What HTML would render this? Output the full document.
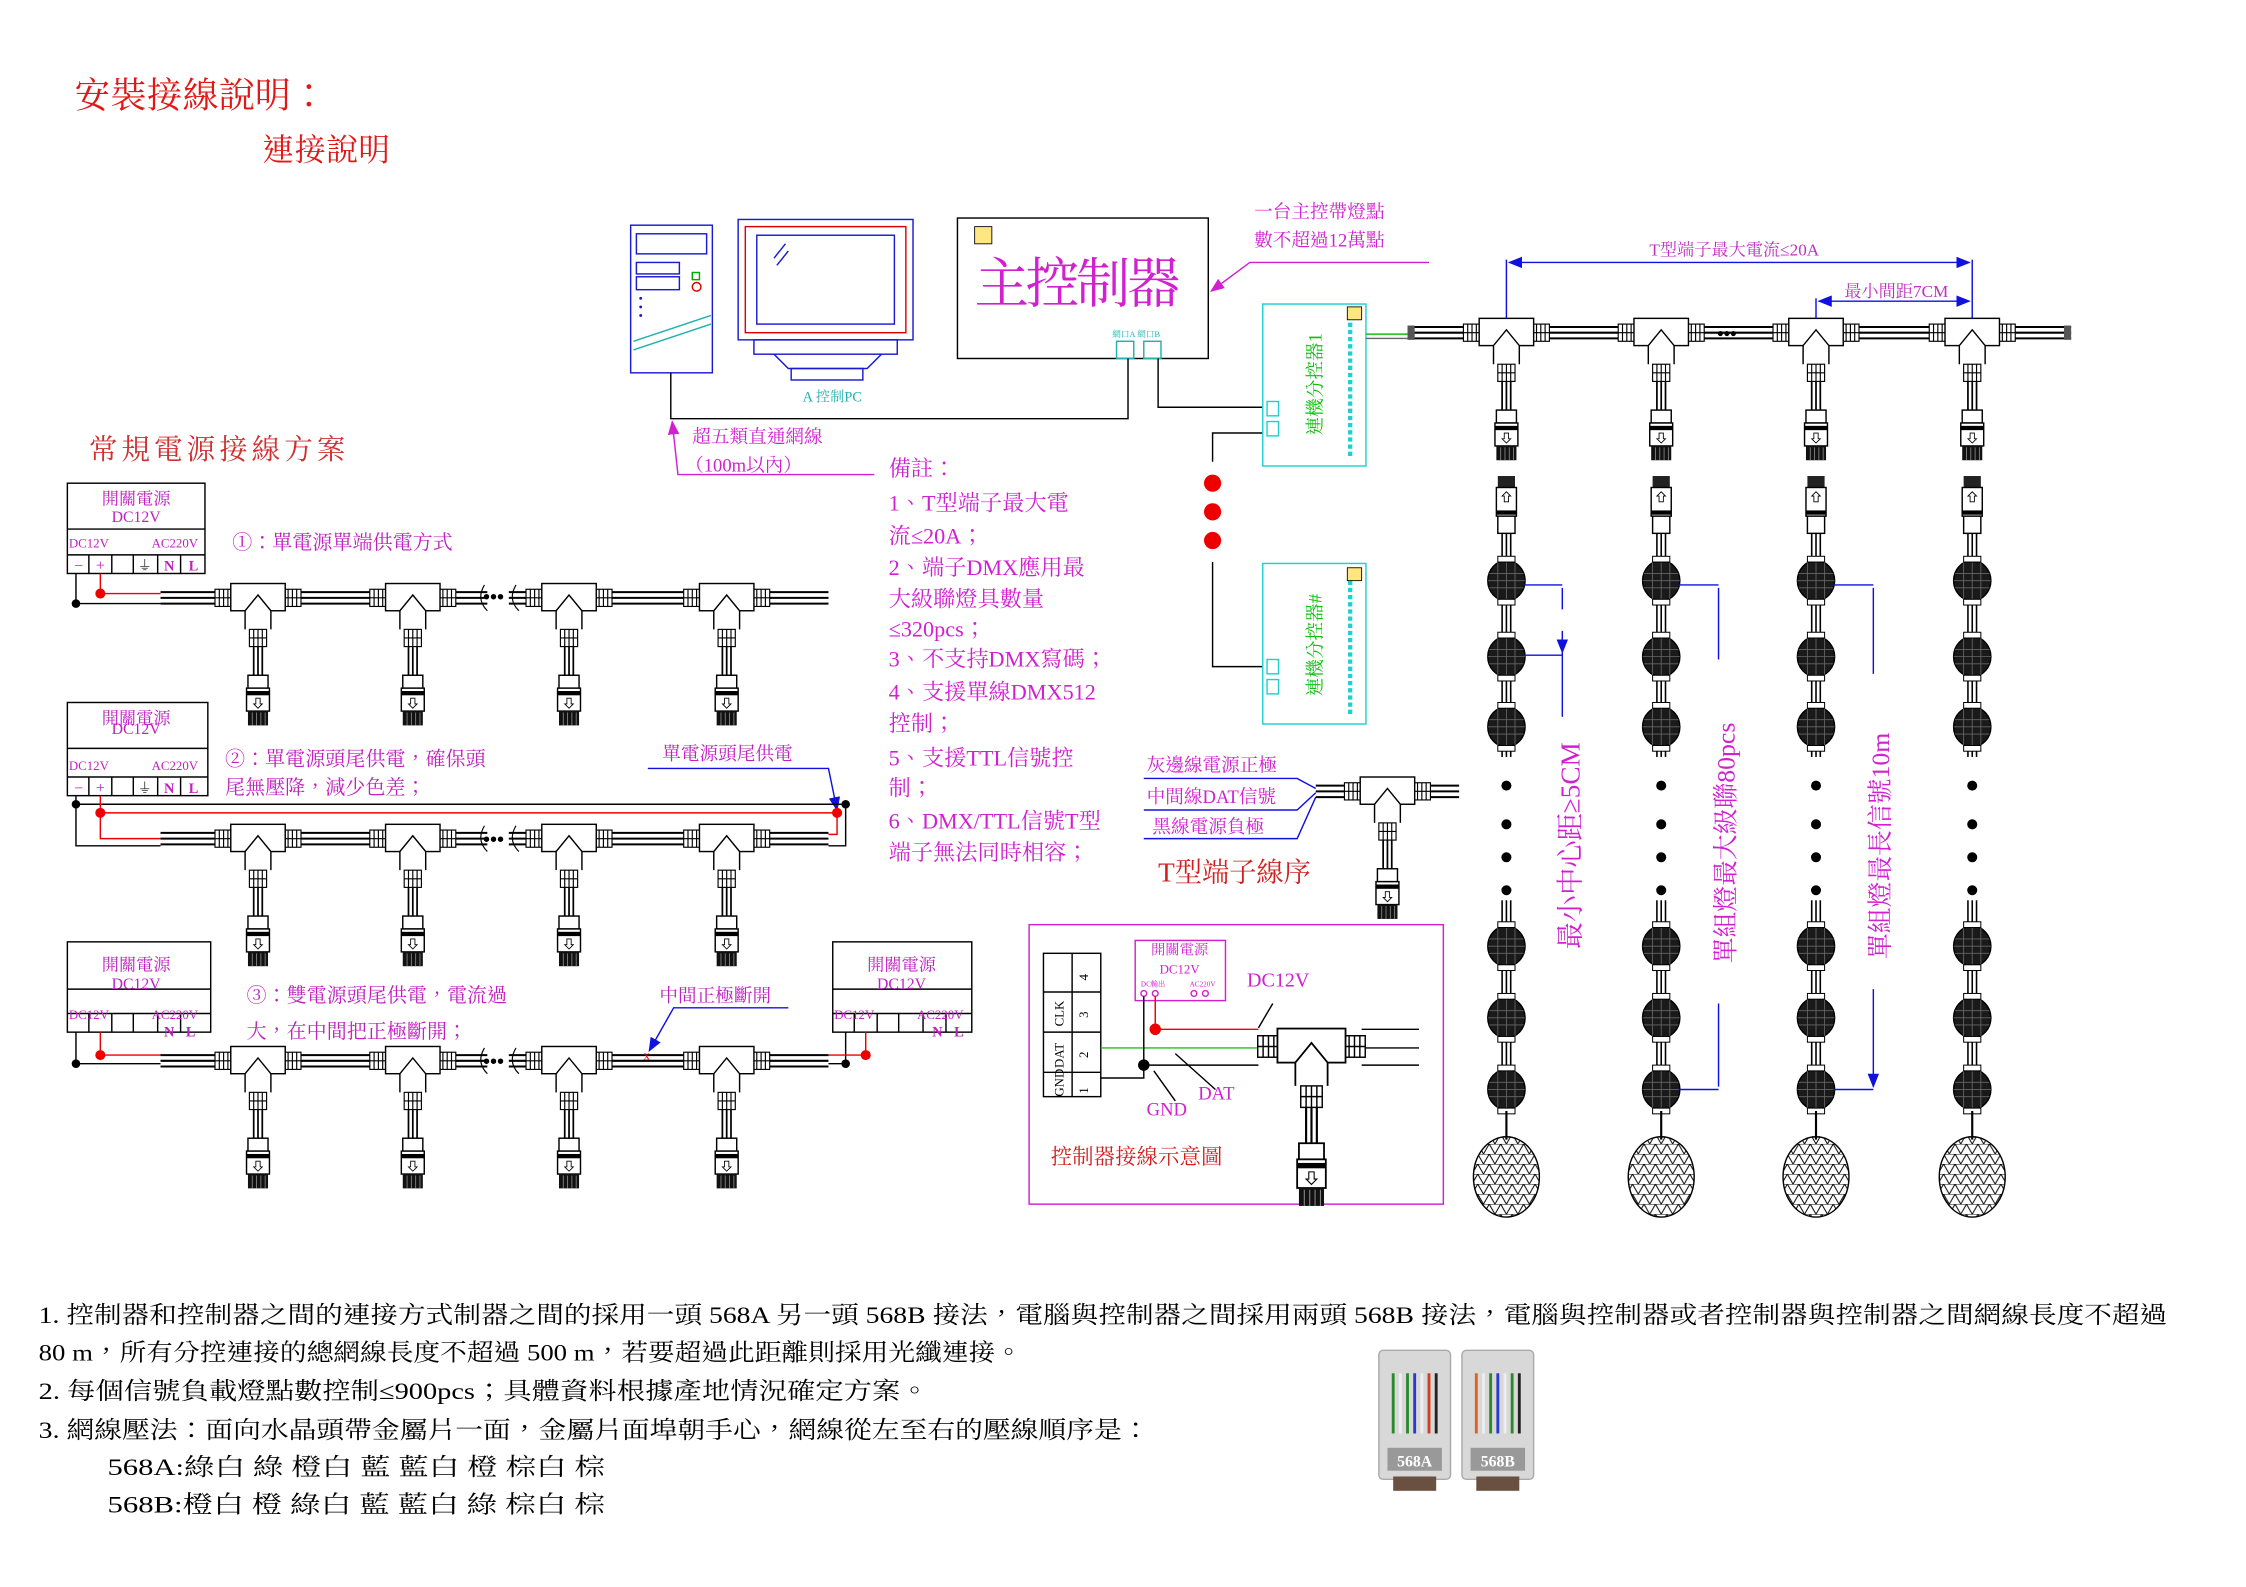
<!DOCTYPE html>
<html><head><meta charset="utf-8"><style>
html,body{margin:0;padding:0;background:#fff;}
svg{display:block;}
text{font-family:"Liberation Serif","Noto Serif CJK TC","Noto Serif CJK SC",serif;}
</style></head><body>
<svg width="2246" height="1587" viewBox="0 0 1567 1107" xmlns="http://www.w3.org/2000/svg">
<defs>
<pattern id="mesh" width="8" height="7" patternUnits="userSpaceOnUse">
<path d="M0,7 L4,0 L8,7 M0,0 H8" fill="none" stroke="#000" stroke-width="0.7"/>
</pattern>
<g id="tee">
<rect x="-30" y="-6" width="12" height="12" fill="#fff" stroke="#000" stroke-width="0.8"/>
<path d="M-27,-6V6M-24,-6V6M-21,-6V6M-30,0H-18" stroke="#000" stroke-width="0.8"/>
<rect x="18" y="-6" width="12" height="12" fill="#fff" stroke="#000" stroke-width="0.8"/>
<path d="M21,-6V6M24,-6V6M27,-6V6M18,0H30" stroke="#000" stroke-width="0.8"/>
<rect x="-19" y="-10" width="38" height="19" fill="#fff" stroke="#000"/>
<path d="M-9,22V9L0,-2L9,9V22" fill="#fff" stroke="#000"/>
<rect x="-6" y="22" width="12" height="12" fill="#fff" stroke="#000" stroke-width="0.8"/>
<path d="M-3,22V34M0,22V34M3,22V34M-6,28H6" stroke="#000" stroke-width="0.8"/>
<path d="M-3,34V55M0,34V55M3,34V55" stroke="#000" stroke-width="1.2"/>
<rect x="-7" y="54" width="14" height="9" fill="#fff" stroke="#000"/>
<rect x="-8" y="63" width="16" height="16" fill="#fff" stroke="#000"/>
<rect x="-8" y="65" width="16" height="3" fill="#000"/>
<path d="M-1.5,70V74H-3L0,77L3,74H1.5V70Z" fill="none" stroke="#000" stroke-width="0.6"/>
<rect x="-7" y="79" width="14" height="10" fill="#111"/>
<path d="M-4,80V89M-1,80V89M2,80V89M5,80V89" stroke="#888" stroke-width="0.6"/>
</g>
<g id="ball">
<ellipse cx="0" cy="0" rx="13" ry="14" fill="#1a1a1a" stroke="#000"/>
<path d="M-12,-5H12M-13,0H13M-12,5H12M-6,-13V13M0,-14V14M6,-13V13" stroke="#666" stroke-width="0.6"/>
<rect x="-6" y="-17" width="12" height="4" fill="#fff" stroke="#000" stroke-width="0.7"/>
<rect x="-6" y="13" width="12" height="4" fill="#fff" stroke="#000" stroke-width="0.7"/>
</g>
<g id="strand">
<rect x="-6" y="332" width="12" height="8" fill="#222"/>
<rect x="-7" y="340" width="14" height="20" fill="#fff" stroke="#000"/>
<rect x="-7" y="356" width="14" height="3" fill="#000"/>
<path d="M-1.5,350V346H-3L0,343L3,346H1.5V350Z" fill="none" stroke="#000" stroke-width="0.6"/>
<rect x="-6" y="360" width="12" height="12" fill="#fff" stroke="#000"/>
<path d="M-3,372V775M0,372V775M3,372V775" stroke="#000" stroke-width="1.1"/>
<rect x="-7" y="528" width="14" height="100" fill="#fff"/>
<use href="#ball" y="405"/><use href="#ball" y="458"/><use href="#ball" y="507"/>
<circle cx="0" cy="548" r="3.5" fill="#000"/><circle cx="0" cy="575" r="3.5" fill="#000"/>
<circle cx="0" cy="598" r="3.5" fill="#000"/><circle cx="0" cy="621" r="3.5" fill="#000"/>
<use href="#ball" y="660"/><use href="#ball" y="710"/><use href="#ball" y="760"/>
<path d="M0,775V795" stroke="#000" stroke-width="1.5"/>
<ellipse cx="0" cy="821" rx="23" ry="28" fill="url(#mesh)" stroke="#000"/>
</g>
<marker id="ab" markerWidth="10" markerHeight="8" refX="9" refY="4" orient="auto-start-reverse" markerUnits="userSpaceOnUse"><path d="M0,0L10,4L0,8Z" fill="#1010e0"/></marker>
<marker id="am" markerWidth="10" markerHeight="8" refX="9" refY="4" orient="auto" markerUnits="userSpaceOnUse"><path d="M0,0L10,4L0,8Z" fill="#d020d0"/></marker>
</defs>

<text x="52" y="75" font-size="25" fill="#e01818" textLength="176">安裝接線說明：</text>
<text x="183" y="112" font-size="22" fill="#e01818" textLength="89">連接說明</text>
<text x="62" y="320" font-size="20" fill="#d03030" textLength="179">常規電源接線方案</text>

<!-- Row 1 -->
<g stroke="#000" fill="none">
<rect x="47" y="337" width="96" height="63" fill="#fff"/>
<path d="M47,369H143M47,387H143M62,387V400M78,387V400M93,387V400M110,387V400M126,387V400"/>
</g>
<g fill="#c020c0" text-anchor="middle">
<text x="95" y="352" font-size="12">開關電源</text><text x="95" y="364" font-size="11">DC12V</text>
<text x="62" y="382" font-size="9">DC12V</text><text x="122" y="382" font-size="9">AC220V</text>
<text x="55" y="398" font-size="11">−</text><text x="70" y="398" font-size="11">+</text>
<text x="101" y="398" font-size="10" fill="#000">⏚</text><text x="118" y="398" font-size="10" font-weight="bold">N</text><text x="135" y="398" font-size="10" font-weight="bold">L</text>
</g>
<path d="M53,400V421H112" stroke="#000" fill="none"/><circle cx="53" cy="421" r="3" fill="#000"/>
<path d="M70,400V414H112" stroke="#e00" fill="none"/><circle cx="70" cy="414" r="3.5" fill="#e00"/>
<g stroke="#000" stroke-width="1.4"><path d="M112,413H340M112,417H340M112,421H340M355,413H578M355,417H578M355,421H578"/></g>
<text x="337" y="421" font-size="14" font-weight="bold">•••</text>
<path d="M338,408q-6,10 2,18M360,408q-6,10 2,18" stroke="#000" fill="none" stroke-width="0.8"/>
<use href="#tee" x="180" y="417"/><use href="#tee" x="288" y="417"/><use href="#tee" x="397" y="417"/><use href="#tee" x="507" y="417"/>
<text x="162" y="383" font-size="14" fill="#c020c0">①：單電源單端供電方式</text>

<!-- Row 2 -->
<g stroke="#000" fill="none">
<rect x="47" y="490" width="98" height="65" fill="#fff"/>
<path d="M47,522H145M47,542H145M62,542V555M78,542V555M93,542V555M110,542V555M126,542V555"/>
</g>
<g fill="#c020c0" text-anchor="middle">
<text x="95" y="505" font-size="12">開關電源</text><text x="95" y="512" font-size="11">DC12V</text>
<text x="62" y="537" font-size="9">DC12V</text><text x="122" y="537" font-size="9">AC220V</text>
<text x="55" y="553" font-size="11">−</text><text x="70" y="553" font-size="11">+</text>
<text x="101" y="553" font-size="10" fill="#000">⏚</text><text x="118" y="553" font-size="10" font-weight="bold">N</text><text x="135" y="553" font-size="10" font-weight="bold">L</text>
</g>
<text x="157" y="534" font-size="14" fill="#c020c0">②：單電源頭尾供電，確保頭</text>
<text x="157" y="554" font-size="14" fill="#c020c0">尾無壓降，減少色差；</text>
<text x="462" y="530" font-size="13" fill="#c020c0">單電源頭尾供電</text>
<path d="M452,536H578L584,565" stroke="#1010e0" fill="none" marker-end="url(#ab)"/>
<path d="M53,555V590H112M53,561H590V590H578" stroke="#000" fill="none"/>
<circle cx="53" cy="561" r="3" fill="#000"/><circle cx="590" cy="561" r="3" fill="#000"/>
<path d="M70,555V585H112M70,567H584V582H578" stroke="#e00" fill="none"/>
<circle cx="70" cy="567" r="3.5" fill="#e00"/><circle cx="584" cy="567" r="3.5" fill="#e00"/>
<g stroke="#000" stroke-width="1.4"><path d="M112,581H340M112,585H340M112,589H340M355,581H578M355,585H578M355,589H578"/></g>
<text x="337" y="590" font-size="14" font-weight="bold">•••</text>
<path d="M338,576q-6,10 2,18M360,576q-6,10 2,18" stroke="#000" fill="none" stroke-width="0.8"/>
<use href="#tee" x="180" y="585"/><use href="#tee" x="288" y="585"/><use href="#tee" x="397" y="585"/><use href="#tee" x="507" y="585"/>

<!-- Row 3 -->
<g stroke="#000" fill="none">
<rect x="47" y="657" width="100" height="63" fill="#fff"/>
<path d="M47,690H147M47,707H147M62,707V720M78,707V720M93,707V720M110,707V720M126,707V720"/>
<rect x="581" y="657" width="97" height="63" fill="#fff"/>
<path d="M581,690H678M581,707H678M596,707V720M612,707V720M627,707V720M644,707V720M660,707V720"/>
</g>
<g fill="#c020c0" text-anchor="middle">
<text x="95" y="677" font-size="12">開關電源</text><text x="95" y="690" font-size="11">DC12V</text>
<text x="62" y="711" font-size="9">DC12V</text><text x="122" y="711" font-size="9">AC220V</text>
<text x="118" y="723" font-size="10" font-weight="bold">N</text><text x="133" y="723" font-size="10" font-weight="bold">L</text>
<text x="629" y="677" font-size="12">開關電源</text><text x="629" y="690" font-size="11">DC12V</text>
<text x="596" y="711" font-size="9">DC12V</text><text x="656" y="711" font-size="9">AC220V</text>
<text x="654" y="723" font-size="10" font-weight="bold">N</text><text x="669" y="723" font-size="10" font-weight="bold">L</text>
</g>
<text x="172" y="699" font-size="14" fill="#c020c0">③：雙電源頭尾供電，電流過</text>
<text x="172" y="724" font-size="14" fill="#c020c0">大，在中間把正極斷開；</text>
<text x="460" y="699" font-size="13" fill="#c020c0">中間正極斷開</text>
<path d="M550,703H470L453,733" stroke="#1010e0" fill="none" marker-end="url(#ab)"/>
<path d="M53,720V742H112M590,720V742H578" stroke="#000" fill="none"/>
<circle cx="53" cy="742" r="3" fill="#000"/><circle cx="590" cy="742" r="3" fill="#000"/>
<path d="M70,720V736H112M604,720V736H578" stroke="#e00" fill="none"/>
<circle cx="70" cy="736" r="3.5" fill="#e00"/><circle cx="604" cy="736" r="3.5" fill="#e00"/>
<g stroke="#000" stroke-width="1.4"><path d="M112,736H340M112,740H340M112,744H340M355,736H578M355,740H578M355,744H578"/></g>
<text x="337" y="745" font-size="14" font-weight="bold">•••</text>
<path d="M338,731q-6,10 2,18M360,731q-6,10 2,18" stroke="#000" fill="none" stroke-width="0.8"/>
<use href="#tee" x="180" y="740"/><use href="#tee" x="288" y="740"/><use href="#tee" x="397" y="740"/><use href="#tee" x="507" y="740"/>
<text x="449" y="739" font-size="9" fill="#e00">x</text>

<!-- Computer & controller -->
<g fill="none" stroke="#1a1ad0">
<rect x="440" y="157" width="57" height="103"/>
<rect x="444" y="163" width="49" height="14"/><rect x="444" y="183" width="30" height="8"/><rect x="444" y="193" width="30" height="9"/>
<path d="M442,238q15,-5 30,-10t24,-8M442,244q15,-5 30,-10t24,-8" stroke="#20b0b0"/>
<rect x="515" y="153" width="122" height="84" stroke="#1a1ad0"/>
<rect x="520" y="158" width="112" height="74" stroke="#d00"/>
<rect x="528" y="164" width="96" height="62"/>
<path d="M540,180l8,-10M542,185l8,-10" stroke="#1a1ad0"/>
<rect x="526" y="237" width="100" height="10"/>
<path d="M540,247l10,10h55l10,-10"/><rect x="552" y="257" width="50" height="8"/>
</g>
<rect x="483" y="190" width="5" height="5" fill="none" stroke="#0a0"/>
<circle cx="486" cy="200" r="3" fill="none" stroke="#d00"/>
<g fill="#1a1ad0"><circle cx="447" cy="208" r="1"/><circle cx="447" cy="214" r="1"/><circle cx="447" cy="220" r="1"/></g>
<text x="560" y="280" font-size="10" fill="#20b0b0">A  控制PC</text>
<rect x="668" y="152" width="175" height="98" fill="none" stroke="#000"/>
<rect x="680" y="158" width="12" height="12" fill="#ffe680" stroke="#000" stroke-width="0.6"/>
<text x="680" y="211" font-size="38" fill="#d020d0" textLength="144">主控制器</text>
<rect x="779" y="238" width="12" height="12" fill="none" stroke="#20b0b0"/><rect x="798" y="238" width="12" height="12" fill="none" stroke="#20b0b0"/>
<text x="776" y="235" font-size="6" fill="#20b0b0">網口A 網口B</text>
<path d="M468,260V292H787V250M808,250V284H881" stroke="#000" fill="none"/>
<path d="M881,302H846V322" stroke="#000" fill="none"/>
<circle cx="846" cy="337" r="6" fill="#e00"/><circle cx="846" cy="357" r="6" fill="#e00"/><circle cx="846" cy="377" r="6" fill="#e00"/>
<path d="M846,392V465H881" stroke="#000" fill="none"/>
<text x="875" y="152" font-size="13" fill="#d020d0">一台主控帶燈點</text>
<text x="875" y="172" font-size="13" fill="#d020d0">數不超過12萬點</text>
<path d="M997,183H872L845,203" stroke="#d020d0" fill="none" marker-end="url(#am)"/>
<text x="483" y="309" font-size="13" fill="#d020d0">超五類直通網線</text>
<text x="478" y="329" font-size="13" fill="#d020d0">（100m以內）</text>
<path d="M610,331H473L469,294" stroke="#d020d0" fill="none" marker-end="url(#am)"/>

<!-- splitters -->
<g fill="none" stroke="#20d0d0">
<rect x="881" y="212" width="72" height="113"/><rect x="881" y="393" width="72" height="112"/>
<rect x="884" y="280" width="8" height="10"/><rect x="884" y="294" width="8" height="10"/>
<rect x="884" y="460" width="8" height="10"/><rect x="884" y="474" width="8" height="10"/>
<path d="M942,225V320M942,405V500" stroke-dasharray="3,2" stroke-width="3"/>
</g>
<rect x="940" y="214" width="10" height="9" fill="#ffe680" stroke="#000" stroke-width="0.6"/>
<rect x="940" y="396" width="10" height="9" fill="#ffe680" stroke="#000" stroke-width="0.6"/>
<text transform="translate(922,268) rotate(-90)" font-size="13" fill="#10c010" text-anchor="middle">連機分控器1</text>
<text transform="translate(922,450) rotate(-90)" font-size="13" fill="#10c010" text-anchor="middle">連機分控器#</text>
<path d="M953,233H985" stroke="#10c010"/><path d="M953,236H985" stroke="#666"/>

<!-- notes -->
<g font-size="15.5" fill="#d020d0">
<text x="620" y="332">備註：</text>
<text x="620" y="356">1、T型端子最大電</text>
<text x="620" y="379">流≤20A；</text>
<text x="620" y="401">2、端子DMX應用最</text>
<text x="620" y="423">大級聯燈具數量</text>
<text x="620" y="444">≤320pcs；</text>
<text x="620" y="465">3、不支持DMX寫碼；</text>
<text x="620" y="488">4、支援單線DMX512</text>
<text x="620" y="510">控制；</text>
<text x="620" y="534">5、支援TTL信號控</text>
<text x="620" y="555">制；</text>
<text x="620" y="578">6、DMX/TTL信號T型</text>
<text x="620" y="600">端子無法同時相容；</text>
</g>

<!-- T order -->
<g font-size="13" fill="#d020d0">
<text x="800" y="538">灰邊線電源正極</text><text x="800" y="560">中間線DAT信號</text><text x="804" y="581">黑線電源負極</text>
</g>
<path d="M798,543H905L918,550M798,565H905L918,553M798,585H905L918,556" stroke="#1010e0" fill="none"/>
<g stroke="#000" stroke-width="1.4"><path d="M918,548H940M918,552H940M918,556H940M990,548H1018M990,552H1018M990,556H1018"/></g>
<use href="#tee" x="968" y="552"/>
<text x="808" y="615" font-size="19" fill="#d02020">T型端子線序</text>

<!-- controller wiring box -->
<rect x="718" y="645" width="289" height="195" fill="none" stroke="#d020d0"/>
<g stroke="#000" fill="none"><rect x="728" y="665" width="40" height="100"/><path d="M748,665V765M728,692H768M728,720H768M728,748H768"/></g>
<g font-size="9" fill="#000">
<text transform="translate(759,684) rotate(-90)">4</text><text transform="translate(759,710) rotate(-90)">3</text><text transform="translate(759,738) rotate(-90)">2</text><text transform="translate(759,763) rotate(-90)">1</text>
<text transform="translate(742,716) rotate(-90)">CLK</text><text transform="translate(742,745) rotate(-90)">DAT</text><text transform="translate(742,765) rotate(-90)">GND</text>
</g>
<rect x="792" y="656" width="63" height="42" fill="none" stroke="#d020d0"/>
<text x="823" y="666" font-size="10" fill="#d020d0" text-anchor="middle">開關電源</text>
<text x="823" y="679" font-size="9" fill="#d020d0" text-anchor="middle">DC12V</text>
<text x="796" y="688" font-size="5" fill="#d020d0">DC輸出</text><text x="830" y="688" font-size="5" fill="#d020d0">AC220V</text>
<g fill="none" stroke="#d020d0"><circle cx="798" cy="693" r="2"/><circle cx="806" cy="693" r="2"/><circle cx="833" cy="693" r="2"/><circle cx="841" cy="693" r="2"/></g>
<text x="870" y="688" font-size="14" fill="#d020d0">DC12V</text>
<path d="M806,695V718H878" stroke="#e00" fill="none"/><circle cx="806" cy="718" r="4" fill="#e00"/>
<path d="M768,731H878" stroke="#20c020"/>
<path d="M768,752H798V695M798,743H878" stroke="#000" fill="none"/><circle cx="798" cy="743" r="4" fill="#000"/>
<path d="M888,700L878,717M820,735L848,760M805,747L820,768" stroke="#000"/>
<text x="836" y="767" font-size="13" fill="#d020d0">DAT</text>
<text x="800" y="778" font-size="13" fill="#d020d0">GND</text>
<g stroke="#000" stroke-width="1"><path d="M950,718H990M950,731H990M950,743H990"/></g>
<g transform="translate(915,730) scale(1.25)"><use href="#tee"/></g>
<text x="733" y="812" font-size="15" fill="#d02020">控制器接線示意圖</text>

<!-- right strands -->
<g stroke="#000" stroke-width="1.4"><path d="M985,228H1445M985,232H1445M985,236H1445"/></g>
<rect x="982" y="227" width="5" height="10" fill="#555"/><rect x="1440" y="227" width="5" height="10" fill="#555"/>
<text x="1198" y="237" font-size="13" font-weight="bold" fill="#000">•••</text>
<use href="#tee" x="1051" y="232"/><use href="#tee" x="1159" y="232"/><use href="#tee" x="1267" y="232"/><use href="#tee" x="1376" y="232"/>
<use href="#strand" x="1051"/><use href="#strand" x="1159"/><use href="#strand" x="1267"/><use href="#strand" x="1376"/>

<!-- dimensions -->
<path d="M1051,222V181M1376,222V181" stroke="#1010e0"/>
<path d="M1053,183H1374" stroke="#1010e0" marker-start="url(#ab)" marker-end="url(#ab)"/>
<text x="1210" y="178" font-size="12" fill="#c030c0" text-anchor="middle">T型端子最大電流≤20A</text>
<path d="M1267,222V208" stroke="#1010e0"/>
<path d="M1269,210H1374" stroke="#1010e0" marker-start="url(#ab)" marker-end="url(#ab)"/>
<text x="1323" y="207" font-size="12" fill="#c030c0" text-anchor="middle">最小間距7CM</text>
<path d="M1063,408H1090M1063,457H1090" stroke="#1010e0"/>
<path d="M1090,425V410M1090,440V455" stroke="#1010e0" marker-end="url(#ab)"/>
<path d="M1090,455V500" stroke="#1010e0"/>
<text transform="translate(1102,590) rotate(-90)" font-size="19" fill="#d020d0" text-anchor="middle">最小中心距≥5CM</text>
<path d="M1171,408H1199M1171,760H1199M1307,408H1279M1307,760H1279" stroke="#1010e0"/>
<path d="M1199,460V410M1199,700V758M1307,470V410M1307,690V758" stroke="#1010e0" marker-end="url(#ab)"/>
<text transform="translate(1210,588) rotate(-90)" font-size="18" fill="#d020d0" text-anchor="middle">單組燈最大級聯80pcs</text>
<text transform="translate(1318,590) rotate(-90)" font-size="18" fill="#d020d0" text-anchor="middle">單組燈最長信號10m</text>

<!-- bottom text -->
<g font-size="16.5" fill="#000">
<text x="27" y="923" textLength="1485" lengthAdjust="spacingAndGlyphs">1. 控制器和控制器之間的連接方式制器之間的採用一頭 568A 另一頭  568B 接法，電腦與控制器之間採用兩頭  568B 接法，電腦與控制器或者控制器與控制器之間網線長度不超過</text>
<text x="27" y="949" textLength="686" lengthAdjust="spacingAndGlyphs">80 m，所有分控連接的總網線長度不超過 500 m，若要超過此距離則採用光纖連接。</text>
<text x="27" y="976" textLength="621" lengthAdjust="spacingAndGlyphs">2. 每個信號負載燈點數控制≤900pcs；具體資料根據產地情況確定方案。</text>
<text x="27" y="1003" textLength="775" lengthAdjust="spacingAndGlyphs">3. 網線壓法：面向水晶頭帶金屬片一面，金屬片面埠朝手心，網線從左至右的壓線順序是：</text>
<text x="75" y="1029" textLength="347" lengthAdjust="spacingAndGlyphs">568A:綠白 綠 橙白 藍 藍白 橙 棕白 棕</text>
<text x="75" y="1055" textLength="347" lengthAdjust="spacingAndGlyphs">568B:橙白 橙 綠白 藍 藍白 綠 棕白 棕</text>
</g>

<!-- RJ45 -->
<g>
<rect x="962" y="942" width="50" height="90" rx="3" fill="#d8d8d8" stroke="#aaa"/>
<rect x="972" y="1030" width="30" height="10" fill="#6a5040"/>
<g stroke-width="2"><path d="M972,958V1000" stroke="#2a8a2a"/><path d="M977,958V1000" stroke="#eee"/><path d="M982,958V1000" stroke="#2a8a2a"/><path d="M987,958V1000" stroke="#2a3ad0"/><path d="M992,958V1000" stroke="#eee"/><path d="M997,958V1000" stroke="#d04020"/><path d="M1002,958V1000" stroke="#222"/></g>
<rect x="968" y="1010" width="38" height="16" fill="#999"/>
<text x="987" y="1023" font-size="11" font-weight="bold" fill="#fff" font-family="Liberation Sans" text-anchor="middle">568A</text>
<rect x="1020" y="942" width="50" height="90" rx="3" fill="#d8d8d8" stroke="#aaa"/>
<rect x="1030" y="1030" width="30" height="10" fill="#6a5040"/>
<g stroke-width="2"><path d="M1030,958V1000" stroke="#e06020"/><path d="M1035,958V1000" stroke="#eee"/><path d="M1040,958V1000" stroke="#2a8a2a"/><path d="M1045,958V1000" stroke="#2a3ad0"/><path d="M1050,958V1000" stroke="#eee"/><path d="M1055,958V1000" stroke="#2a8a2a"/><path d="M1060,958V1000" stroke="#222"/></g>
<rect x="1026" y="1010" width="38" height="16" fill="#999"/>
<text x="1045" y="1023" font-size="11" font-weight="bold" fill="#fff" font-family="Liberation Sans" text-anchor="middle">568B</text>
</g>
</svg>
</body></html>
